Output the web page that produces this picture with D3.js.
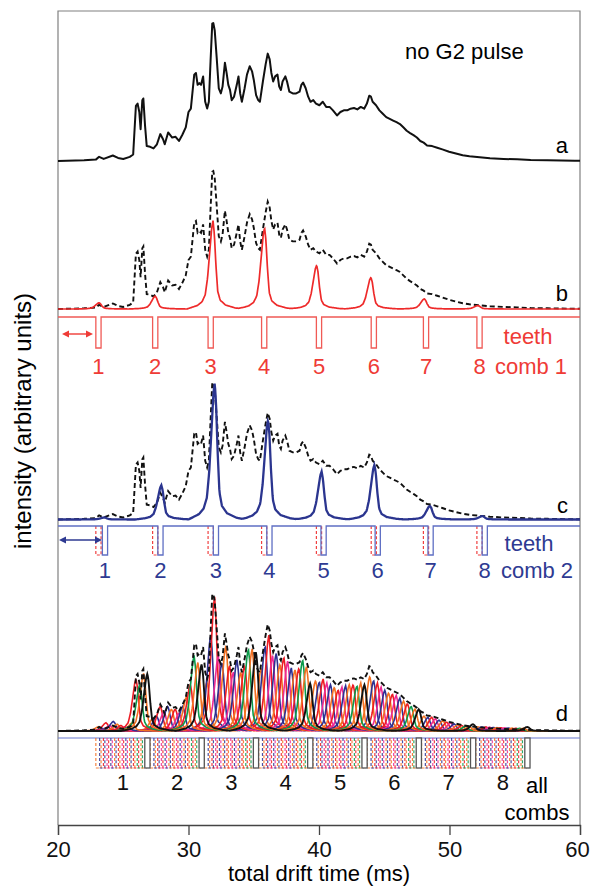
<!DOCTYPE html>
<html><head><meta charset="utf-8">
<script src="https://cdn.jsdelivr.net/npm/d3@7"></script>
<style>body{margin:0;background:#fff} text{font-family:"Liberation Sans",Arial,Helvetica,sans-serif}</style>
</head><body><svg id="chart" width="590" height="888"></svg>
<script>
// ---------- data ----------
const spectrum = [[20.0,0],[22.0,0.5],[22.9,1],[23.15,3],[23.5,1.5],[24.2,4],[24.6,2.2],[25.0,1.5],[25.5,3],[25.76,4.7],[25.97,40],[26.1,41.6],[26.23,35.5],[26.33,23],[26.46,44],[26.54,45.3],[26.67,25.6],[26.8,10.8],[27.06,10.3],[27.32,9.1],[27.58,12.1],[27.84,19.5],[28.05,15.8],[28.18,12.1],[28.44,20.7],[28.75,17],[29.01,17.5],[29.27,14.5],[29.53,19],[29.79,24.4],[30.0,35.5],[30.18,37.9],[30.44,62.6],[30.57,63.8],[30.7,55.2],[30.83,56.4],[30.96,55.2],[31.12,61.3],[31.28,42.9],[31.43,38],[31.56,42.9],[31.69,72.4],[31.82,99.5],[31.9,100],[32.01,94.6],[32.16,74.9],[32.32,52.7],[32.48,49],[32.61,53.9],[32.79,71.2],[32.92,63.8],[33.05,55.2],[33.18,51.5],[33.31,44.1],[33.49,46.6],[33.7,55.2],[33.83,61.3],[33.96,49],[34.09,42.9],[34.3,52.7],[34.48,62.6],[34.69,68.7],[34.87,65],[35.0,58.9],[35.18,47.8],[35.34,44.1],[35.47,42.9],[35.7,57.6],[35.91,70],[36.07,77.8],[36.22,73.6],[36.35,63.8],[36.49,57.6],[36.64,61.3],[36.82,62.6],[36.95,53.9],[37.08,51.5],[37.21,57.6],[37.42,61.3],[37.55,57.6],[37.73,50.2],[37.99,49],[38.25,49],[38.51,50.2],[38.65,55.2],[38.78,56.9],[38.98,52.7],[39.17,46.6],[39.35,42.9],[39.56,44.1],[39.77,41.6],[40.03,40.4],[40.29,42.9],[40.55,39.2],[40.81,39.2],[41.07,36.7],[41.38,33],[41.64,35.5],[41.9,36.7],[42.16,36.7],[42.42,37.9],[42.68,38.4],[42.94,37.4],[43.2,39.2],[43.46,37.9],[43.67,41.6],[43.85,47.3],[43.98,46.6],[44.11,42.9],[44.37,40.4],[44.63,36.7],[44.89,34.2],[45.15,31.8],[45.42,30.5],[45.68,29.3],[45.94,28.1],[46.2,26.8],[46.46,24.4],[46.72,21.9],[46.98,20.2],[47.24,18.7],[47.5,17],[47.76,14.5],[48.02,13.3],[48.28,11.3],[48.67,10.8],[49.06,9.6],[49.45,8.4],[49.97,6.7],[50.49,5.4],[51.01,4.2],[51.53,3.4],[52.31,2.7],[53.1,2],[54.14,1.5],[55.18,1.2],[56.22,0.7],[57.52,0.5],[59.6,0.2],[60,0.2]];

const xTicks = [20, 30, 40, 50, 60];
const toothLabels = ["1","2","3","4","5","6","7","8"];
const toothWidth = 0.4;

const comb1Teeth = [23.1, 27.45, 31.7, 35.8, 40.0, 44.2, 48.2, 52.3];
const comb1PeakTimes = [23.15, 27.45, 31.88, 35.83, 39.82, 43.98, 48.07, 52.18];
const comb1PeakHeights = [4.5, 9.4, 64, 59, 31.8, 23, 7.4, 2.5];

const comb2Teeth = [23.6, 27.85, 32.1, 36.2, 40.35, 44.5, 48.55, 52.7];
const comb2PeakTimes = [23.55, 27.92, 32.01, 36.1, 40.2, 44.25, 48.5, 52.52];
const comb2PeakHeights = [1.5, 25, 100, 73, 35, 40, 10, 2.5];

const allCombOffsets = [23.10, 23.39, 23.68, 23.96, 24.25, 24.54, 24.83, 25.12, 25.40, 25.69, 25.98, 26.27, 26.56, 26.85];
const combPeriod = 4.16;
const allCombColors = ["#f37021","#2e3192","#ed1c24","#ec2a94","#2e3192","#f37021","#ed1c24","#ec2a94","#2e3192","#f37021","#ed1c24","#0c9a4a","#f37021","#111111"];
const allCombHeights = [
  [3, 9, 36, 46, 37, 40, 11, 3],
  [2, 11, 70, 62, 36, 37, 10, 3],
  [6, 18, 98, 70, 38, 35, 10, 3],
  [4, 14, 55, 55, 35, 32, 9, 2.8],
  [7, 18, 50, 57, 34, 30, 8, 2.6],
  [5, 16, 62, 49, 32, 28, 7.5, 2.5],
  [4, 16, 48, 54, 30, 27, 6.5, 2.4],
  [3, 13, 43, 51, 32, 26, 6, 2.3],
  [3, 18, 52, 46, 33, 24, 5.2, 2.2],
  [6, 25, 43, 45, 34, 22, 4.6, 2.1],
  [38, 34, 48, 46, 34, 20, 4, 2],
  [34, 55, 60, 52, 33, 18, 3.5, 2],
  [42, 50, 60, 47, 35, 16, 3.2, 2],
  [42, 49, 58, 35, 34, 16, 5, 3]
];
const allCombLabelTimes = [24.97, 29.13, 33.29, 37.45, 41.61, 45.77, 49.93, 54.09];

const peakProfile = [[-2,0],[-1.2,0.04],[-0.85,0.08],[-0.6,0.16],[-0.42,0.35],[-0.25,0.65],[-0.1,0.92],[0,1],[0.1,0.85],[0.22,0.5],[0.36,0.2],[0.55,0.1],[0.95,0.045],[1.7,0.012],[2.4,0]];

// ---------- drawing ----------
const svg = d3.select("#chart");
const FONT = 22;
const x = d3.scaleLinear().domain([20, 60]).range([58, 580]);
const yA = d3.scaleLinear().domain([0, 100]).range([161, 23]);
const yB = d3.scaleLinear().domain([0, 100]).range([309, 171]);
const yC = d3.scaleLinear().domain([0, 100]).range([519.5, 382.5]);
const yD = d3.scaleLinear().domain([0, 100]).range([731, 594]);

const grid = d3.range(20, 60.0001, 0.04);
const pT = peakProfile.map(d => d[0]), pV = peakProfile.map(d => d[1]);
const interp = d3.scaleLinear().domain(pT).range(pV).clamp(true);
function profileAt(dt){ return (dt <= pT[0] || dt >= pT[pT.length-1]) ? 0 : interp(dt); }
function trace(times, heights){
  return grid.map(t => [t, d3.sum(times, (c, i) => heights[i] * profileAt(t - c))]);
}
const lineOf = y => d3.line().x(d => x(d[0])).y(d => y(d[1]));

// frame
svg.append("path").attr("d", `M${x(20)},825 V11 H${x(60)} V825`)
  .attr("fill","none").attr("stroke","#808080").attr("stroke-width",1.2);

// panel a
svg.append("path").datum(spectrum).attr("d", lineOf(yA))
  .attr("fill","none").attr("stroke","#111").attr("stroke-width",2).attr("stroke-linejoin","round");
svg.append("text").attr("x",405).attr("y",59).attr("font-size",FONT).text("no G2 pulse");

// panel b
svg.append("path").datum(spectrum).attr("d", lineOf(yB))
  .attr("fill","none").attr("stroke","#111").attr("stroke-width",1.9).attr("stroke-dasharray","5,3");
svg.append("path").datum(trace(comb1PeakTimes, comb1PeakHeights)).attr("d", lineOf(yB))
  .attr("fill","none").attr("stroke","#ee2a2a").attr("stroke-width",1.7);

// panel c
svg.append("path").datum(spectrum).attr("d", lineOf(yC))
  .attr("fill","none").attr("stroke","#111").attr("stroke-width",1.9).attr("stroke-dasharray","5,3");
svg.append("path").datum(trace(comb2PeakTimes, comb2PeakHeights)).attr("d", lineOf(yC))
  .attr("fill","none").attr("stroke","#2b358f").attr("stroke-width",2.3);

// panel d
allCombOffsets.forEach((o, k) => {
  const times = allCombHeights[k].map((h, j) => o + j * combPeriod);
  svg.append("path").datum(trace(times, allCombHeights[k])).attr("d", lineOf(yD))
    .attr("fill","none").attr("stroke", allCombColors[k]).attr("stroke-width", k === allCombOffsets.length-1 ? 1.9 : 1.6);
});
svg.append("path").datum(spectrum).attr("d", lineOf(yD))
  .attr("fill","none").attr("stroke","#111").attr("stroke-width",1.9).attr("stroke-dasharray","5,3");

// panel letters
[["a",153],["b",301],["c",513],["d",721]].forEach(([t, yy]) =>
  svg.append("text").attr("x",568).attr("y",yy).attr("text-anchor","end").attr("font-size",FONT).text(t));

// comb path helper
function combPath(teeth, top, bottom){
  let p = `M${x(20)},${top}`;
  teeth.forEach(t => { p += ` H${x(t - toothWidth/2)} V${bottom} H${x(t + toothWidth/2)} V${top}`; });
  return p + ` H${x(60)}`;
}
function arrow(g, x1, x2, y, color){
  g.append("line").attr("x1",x1+2).attr("x2",x2-2).attr("y1",y).attr("y2",y).attr("stroke",color).attr("stroke-width",1.4);
  g.append("path").attr("d",`M${x1},${y} l7,-3.5 v7 z`).attr("fill",color);
  g.append("path").attr("d",`M${x2},${y} l-7,-3.5 v7 z`).attr("fill",color);
}

// comb 1
const red = "#ef3b36";
svg.append("path").attr("d", combPath(comb1Teeth, 317, 348)).attr("fill","none").attr("stroke","#f05a55").attr("stroke-width",1.3);
arrow(svg, 62, 93, 334, red);
svg.selectAll(".c1l").data(comb1Teeth).join("text").attr("x", d => x(d)).attr("y",374)
  .attr("text-anchor","middle").attr("font-size",FONT).attr("fill",red).text((d,i) => toothLabels[i]);
svg.append("text").attr("x",528).attr("y",344).attr("text-anchor","middle").attr("font-size",FONT).attr("fill",red).text("teeth");
svg.append("text").attr("x",531).attr("y",374).attr("text-anchor","middle").attr("font-size",FONT).attr("fill",red).text("comb 1");

// comb 2
const blue = "#2e3a92";
comb1Teeth.forEach(t => svg.append("path")
  .attr("d", `M${x(t - toothWidth/2)},526 V555 H${x(t + toothWidth/2)} V526`)
  .attr("fill","none").attr("stroke","#f04040").attr("stroke-width",1.2).attr("stroke-dasharray","3,2"));
svg.append("path").attr("d", combPath(comb2Teeth, 526, 555)).attr("fill","none").attr("stroke","#5f6fc4").attr("stroke-width",1.3);
arrow(svg, 59, 102, 540, blue);
svg.selectAll(".c2l").data(comb2Teeth).join("text").attr("x", d => x(d)).attr("y",578)
  .attr("text-anchor","middle").attr("font-size",FONT).attr("fill",blue).text((d,i) => toothLabels[i]);
svg.append("text").attr("x",529).attr("y",551).attr("text-anchor","middle").attr("font-size",FONT).attr("fill",blue).text("teeth");
svg.append("text").attr("x",537).attr("y",578).attr("text-anchor","middle").attr("font-size",FONT).attr("fill",blue).text("comb 2");

// all combs
svg.append("line").attr("x1",x(20)).attr("x2",x(60)).attr("y1",738).attr("y2",738).attr("stroke","#6b7bd0").attr("stroke-width",1.2);
allCombOffsets.forEach((o, k) => {
  const teeth = toothLabels.map((l, j) => o + j * combPeriod);
  const last = k === allCombOffsets.length - 1;
  teeth.forEach(t => {
    if (last) {
      svg.append("rect").attr("x", x(t - toothWidth/2)).attr("y",738).attr("width", x(t + toothWidth/2) - x(t - toothWidth/2)).attr("height",30)
        .attr("fill","#fff").attr("stroke","#555").attr("stroke-width",1.3);
    } else {
      svg.append("path").attr("d", `M${x(t - toothWidth/2)},738 V768 H${x(t + toothWidth/2)} V738`)
        .attr("fill","none").attr("stroke", allCombColors[k]).attr("stroke-width",1.2).attr("stroke-dasharray","3,2").attr("opacity",0.85);
    }
  });
});
svg.selectAll(".acl").data(allCombLabelTimes).join("text").attr("x", d => x(d)).attr("y",790)
  .attr("text-anchor","middle").attr("font-size",FONT).attr("fill","#111").text((d,i) => toothLabels[i]);
svg.append("text").attr("x",537).attr("y",793).attr("text-anchor","middle").attr("font-size",FONT).text("all");
svg.append("text").attr("x",537).attr("y",820).attr("text-anchor","middle").attr("font-size",FONT).text("combs");

// x axis
const ax = svg.append("g").attr("transform","translate(0,825)")
  .call(d3.axisBottom(x).tickValues(xTicks).tickSize(10).tickPadding(6).tickFormat(d3.format("d")));
ax.select(".domain").attr("stroke","#444").attr("stroke-width",1.3);
ax.selectAll(".tick line").attr("stroke","#444").attr("stroke-width",1.3);
ax.selectAll(".tick text").attr("font-size",FONT).attr("fill","#111").attr("font-family","Liberation Sans, Arial, sans-serif")
  .attr("dx", d => d === 60 ? -3 : 0);
svg.append("text").attr("x",319).attr("y",881).attr("text-anchor","middle").attr("font-size",FONT).text("total drift time (ms)");

// y label
svg.append("text").attr("transform","translate(31,421) rotate(-90)").attr("text-anchor","middle").attr("font-size",24).text("intensity (arbitrary units)");
</script></body></html>
